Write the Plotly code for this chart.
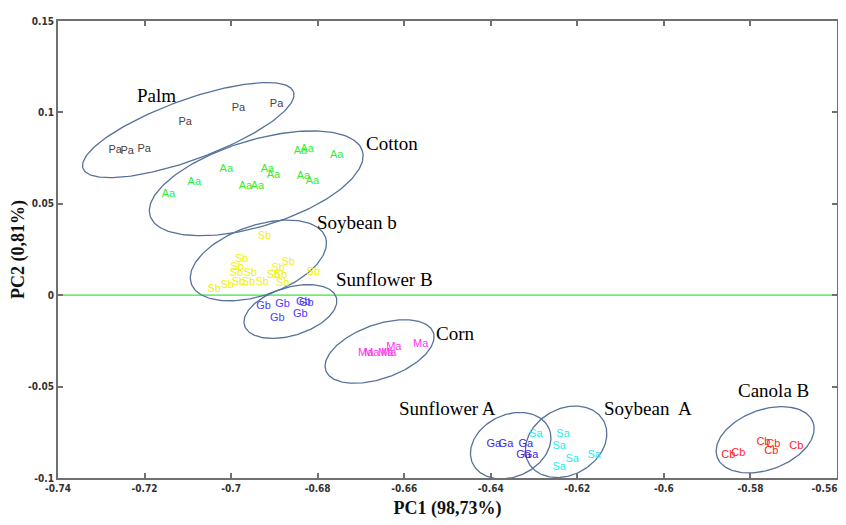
import numpy as np
import plotly.graph_objects as go

# ---- data ----
palm_x = [-0.7268, -0.7240, -0.7201, -0.7106, -0.6983, -0.6895]
palm_y = [0.0793, 0.0788, 0.0799, 0.0947, 0.1023, 0.1045]

cotton_x = [-0.7145, -0.7085, -0.7011, -0.6967, -0.6939, -0.6916, -0.6902, -0.6840, -0.6824, -0.6756, -0.6833, -0.6812]
cotton_y = [0.0552, 0.0618, 0.0689, 0.0596, 0.0596, 0.0689, 0.0656, 0.0788, 0.0799, 0.0766, 0.0651, 0.0623]

soyb_x = [-0.6923, -0.6976, -0.6986, -0.6988, -0.6956, -0.6983, -0.6960, -0.6928, -0.7009, -0.7039, -0.6891, -0.6868, -0.6902, -0.6886, -0.6881, -0.6810]
soyb_y = [0.0322, 0.0196, 0.0152, 0.0119, 0.0119, 0.0070, 0.0070, 0.0070, 0.0053, 0.0031, 0.0146, 0.0179, 0.0108, 0.0108, 0.0064, 0.0125]

sunb_x = [-0.6925, -0.6881, -0.6833, -0.6826, -0.6893, -0.6840]
sunb_y = [-0.0062, -0.0051, -0.0040, -0.0045, -0.0128, -0.0106]

corn_x = [-0.6689, -0.6675, -0.6643, -0.6636, -0.6624, -0.6562]
corn_y = [-0.0319, -0.0319, -0.0319, -0.0319, -0.0286, -0.0270]

suna_x = [-0.6393, -0.6365, -0.6319, -0.6324, -0.6307]
suna_y = [-0.0813, -0.0813, -0.0813, -0.0878, -0.0878]

soya_x = [-0.6296, -0.6233, -0.6242, -0.6242, -0.6212, -0.6161]
soya_y = [-0.0763, -0.0763, -0.0829, -0.0939, -0.0900, -0.0878]

canb_x = [-0.5851, -0.5828, -0.5770, -0.5747, -0.5752, -0.5694]
canb_y = [-0.0878, -0.0862, -0.0807, -0.0813, -0.0856, -0.0829]

groups = [
    ("Pa", palm_x, palm_y, "#4a4040"),
    ("Aa", cotton_x, cotton_y, "#33ee33"),
    ("Sb", soyb_x, soyb_y, "#f2f200"),
    ("Gb", sunb_x, sunb_y, "#4a3cff"),
    ("Ma", corn_x, corn_y, "#ff33ee"),
    ("Ga", suna_x, suna_y, "#3a2ad8"),
    ("Sa", soya_x, soya_y, "#22eeee"),
    ("Cb", canb_x, canb_y, "#ff2222"),
]

group_names = ["Palm", "Cotton", "Soybean b", "Sunflower B", "Corn", "Sunflower A", "Soybean  A", "Canola B"]
name_x = [-0.7173, -0.6629, -0.6708, -0.6645, -0.6481, -0.6499, -0.6036, -0.5747]
name_y = [0.1094, 0.0831, 0.0399, 0.0086, -0.0210, -0.0621, -0.0621, -0.0522]

# ellipses: centre (data), semi-axes (px), tilt (deg, screen)
ell_cx = [-0.7099, -0.6942, -0.6937, -0.6863, -0.6657, -0.6354, -0.6226, -0.5766]
ell_cy = [0.0903, 0.0612, 0.0190, -0.0089, -0.0308, -0.0823, -0.0802, -0.0791]
ell_a = [112, 111, 71, 48, 57, 42, 43, 51]
ell_b = [30, 43, 35, 24, 27, 31, 33, 30]
ell_t = [20, 17, 19, 17, 19.5, 25, 30, 20]

x_ticks = [-0.74, -0.72, -0.70, -0.68, -0.66, -0.64, -0.62, -0.60, -0.58, -0.56]
x_ticktext = ["-0.74", "-0.72", "-0.7", "-0.68", "-0.66", "-0.64", "-0.62", "-0.6", "-0.58",
              "-0.56" + "\u00a0" * 8]
y_ticks = [0.15, 0.10, 0.05, 0.0, -0.05, -0.10]
y_ticktext = ["0.15", "0.1", "0.05", "0", "-0.05", "-0.1"]

# ---- layout geometry (page body adds an 8px offset) ----
W, H = 838, 517
ml, mr, mt, mb = 50, 9, 13, 47
xr = [-0.74, -0.56]
yr = [-0.10, 0.15]
pxx = (W - ml - mr) / (xr[1] - xr[0])
pxy = (H - mt - mb) / (yr[1] - yr[0])

fig = go.Figure()

# zero line
fig.add_trace(go.Scatter(x=xr, y=[0, 0], mode="lines",
                         line=dict(color="#33ee33", width=1.2),
                         hoverinfo="skip", showlegend=False))

# ellipses
t = np.linspace(0, 2 * np.pi, 200)
for cx, cy, a, b, th in zip(ell_cx, ell_cy, ell_a, ell_b, ell_t):
    r = np.deg2rad(th)
    dx = a * np.cos(t) * np.cos(r) - b * np.sin(t) * np.sin(r)
    dy = a * np.cos(t) * np.sin(r) + b * np.sin(t) * np.cos(r)
    fig.add_trace(go.Scatter(x=cx + dx / pxx, y=cy + dy / pxy, mode="lines",
                             line=dict(color="#56729a", width=1.3),
                             hoverinfo="skip", showlegend=False))

# point labels
for lab, xs, ys, col in groups:
    fig.add_trace(go.Scatter(x=xs, y=ys, mode="text", text=[lab] * len(xs),
                             textfont=dict(family="Liberation Sans, Arial", size=11, color=col),
                             showlegend=False))

# group names
for nm, x, y in zip(group_names, name_x, name_y):
    fig.add_annotation(x=x, y=y, text=nm, showarrow=False,
                       font=dict(family="Liberation Serif, Times New Roman", size=19, color="black"))

axis_common = dict(showline=True, linecolor="#707070", linewidth=2, mirror="ticks",
                   ticks="inside", ticklen=5, tickcolor="#707070", tickwidth=1.5,
                   showgrid=False, zeroline=False, automargin=False,
                   ticklabeloverflow="allow",
                   tickfont=dict(family="DejaVu Sans Condensed, Liberation Sans Narrow, Liberation Sans",
                                 size=10, color="#333333", weight="bold"))

fig.update_layout(
    width=W, height=H,
    margin=dict(l=ml, r=mr, t=mt, b=mb),
    paper_bgcolor="white", plot_bgcolor="white",
    xaxis=dict(range=xr, tickvals=x_ticks, ticktext=x_ticktext,
               title=dict(text="<b>PC1 (98,73%)</b>", standoff=8,
                          font=dict(family="Liberation Serif, Times New Roman", size=18, color="#111")),
               **axis_common),
    yaxis=dict(range=yr, tickvals=y_ticks, ticktext=y_ticktext,
               title=dict(text="<b>PC2 (0,81%)</b>", standoff=6,
                          font=dict(family="Liberation Serif, Times New Roman", size=18, color="#111")),
               **axis_common),
)

fig.write_html("out.html")
